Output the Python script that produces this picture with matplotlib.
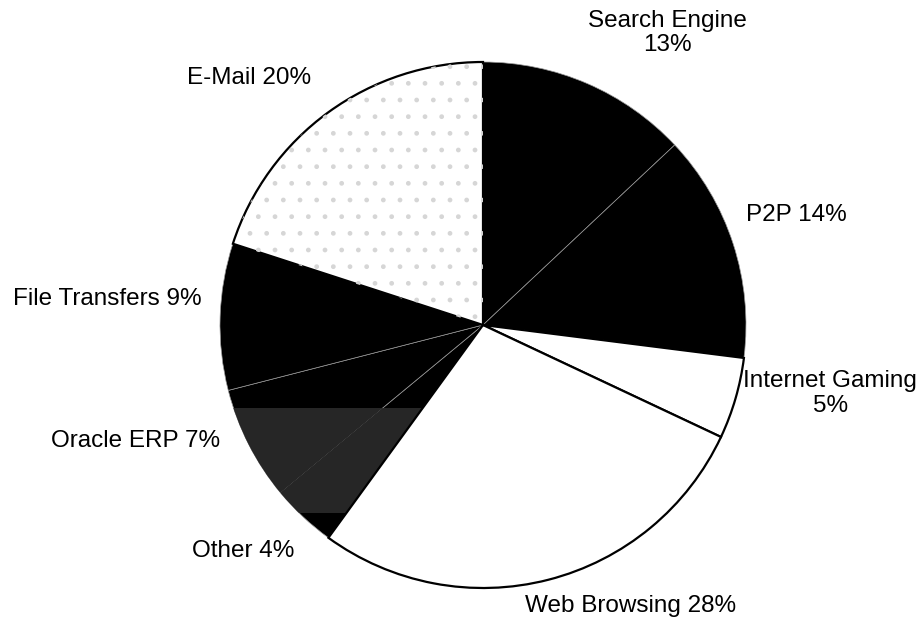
import matplotlib.pyplot as plt
from matplotlib.patches import Rectangle, Wedge

plt.rcParams['font.family'] = ['Liberation Sans', 'DejaVu Sans']

labels = ['Search Engine\n13%', 'P2P 14%', 'Internet Gaming\n5%', 'Web Browsing 28%',
          'Other 4%', 'Oracle ERP 7%', 'File Transfers 9%', 'E-Mail 20%']
shares = [13, 14, 5, 28, 4, 7, 9, 20]
fills = ['black', 'black', 'white', 'white', 'black', 'black', 'black', 'white']

# label centres, in pie-radius units
label_pos = [(0.70, 1.11), (1.19, 0.42), (1.32, -0.26), (0.56, -1.07),
             (-0.91, -0.86), (-1.32, -0.44), (-1.43, 0.10), (-0.89, 0.94)]

fig = plt.figure(figsize=(9.24, 6.26), dpi=100)
ax = fig.add_axes([0, 0, 1, 1])

wedges, texts = ax.pie(shares, colors=fills, startangle=90, counterclock=False,
                       wedgeprops=dict(edgecolor='black', linewidth=1.6))

for w, c in zip(wedges, fills):
    if c == 'black':
        w.set_edgecolor('#9a9a9a')
        w.set_linewidth(0.5)
        w.set_zorder(1)
    else:
        w.set_zorder(2)

# light stipple on the e-mail slice
em = wedges[7]
ax.add_patch(Wedge(em.center, em.r, em.theta1, em.theta2, facecolor='none',
                   edgecolor='#d6d6d6', linewidth=0, hatch='.', zorder=2.5))

# scanned-in grey band over the lower-left slices
for w in (wedges[4], wedges[5]):
    band = Rectangle((-2, -0.715), 2.5, 0.40, facecolor='#262626', edgecolor='none', zorder=1.5)
    ax.add_patch(band)
    band.set_clip_path(w)

for lab, (x, y) in zip(labels, label_pos):
    ax.text(x, y, lab, ha='center', va='center', fontsize=17.5, linespacing=1.15)

ax.set_xlim(-483 / 263, (924 - 483) / 263)
ax.set_ylim(-(626 - 325) / 263, 325 / 263)
ax.set_aspect('equal')
ax.axis('off')

fig.savefig('out.png', dpi=100)
